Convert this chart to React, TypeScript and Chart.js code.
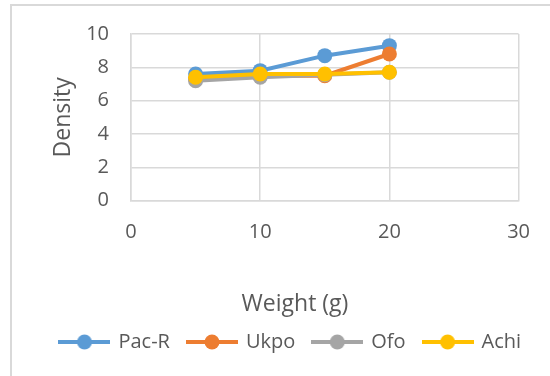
import React, { useEffect, useRef } from "react";
import { Chart, registerables } from "chart.js";

Chart.register(...registerables);

// Density readings per sample weight
const weights = [5, 10, 15, 20];
const pacR = [7.6, 7.8, 8.7, 9.3];
const ukpo = [7.3, 7.5, 7.5, 8.8];
const ofo = [7.2, 7.4, 7.55, 7.7];
const achi = [7.4, 7.6, 7.6, 7.7];

const seriesNames = ["Pac-R", "Ukpo", "Ofo", "Achi"];
const seriesValues = [pacR, ukpo, ofo, achi];
const seriesColors = ["#5B9BD5", "#ED7D31", "#A5A5A5", "#FFC000"];

const xTitle = "Weight (g)";
const yTitle = "Density";

const FONT = "'Open Sans', sans-serif";
const TEXT = "#595959";
const GRID = "#d9d9d9";

// Legend swatch: a short line with a round marker in the middle
function makeSwatch(color: string): HTMLCanvasElement {
  const c = document.createElement("canvas");
  c.width = 52;
  c.height = 18;
  const g = c.getContext("2d")!;
  g.strokeStyle = color;
  g.lineWidth = 4;
  g.beginPath();
  g.moveTo(0, 9);
  g.lineTo(52, 9);
  g.stroke();
  g.fillStyle = color;
  g.beginPath();
  g.arc(26, 9, 7.5, 0, Math.PI * 2);
  g.fill();
  return c;
}

const LEGEND_SHIFT = 30;

// Moves the legend row right so it sits under the whole figure
const legendShift = {
  id: "legendShift",
  afterLayout(chart: any) {
    if (chart.legend) {
      chart.legend.left += LEGEND_SHIFT;
      chart.legend.right += LEGEND_SHIFT;
    }
  },
};

// Horizontal axis caption, centred under the figure rather than the plot
const xCaption = {
  id: "xCaption",
  afterDraw(chart: any) {
    const { ctx } = chart;
    ctx.save();
    ctx.font = `23px ${FONT}`;
    ctx.fillStyle = TEXT;
    ctx.textAlign = "center";
    ctx.textBaseline = "middle";
    ctx.fillText(xTitle, 295, 304);
    ctx.restore();
  },
};

export default function App() {
  const ref = useRef<HTMLCanvasElement | null>(null);

  useEffect(() => {
    if (!ref.current) return;
    const swatches = seriesColors.map(makeSwatch);
    const n = seriesNames.length;
    const chart = new Chart(ref.current, {
      type: "line",
      data: {
        datasets: seriesNames.map((name, i) => ({
          label: name,
          data: weights.map((w, j) => ({ x: w, y: seriesValues[i][j] })),
          borderColor: seriesColors[i],
          backgroundColor: seriesColors[i],
          borderWidth: 4,
          pointRadius: 7.5,
          pointBorderWidth: 0,
          pointBackgroundColor: seriesColors[i],
          tension: 0,
          order: n - 1 - i,
        })),
      },
      options: {
        animation: false,
        responsive: false,
        devicePixelRatio: 1,
        layout: { padding: { top: 33.3, right: 28.4, bottom: 14, left: 0 } },
        plugins: {
          tooltip: { enabled: false },
          legend: {
            position: "bottom",
            labels: {
              usePointStyle: true,
              pointStyleWidth: 48,
              padding: 18,
              color: TEXT,
              font: { family: FONT, size: 20 },
              sort: (a: any, b: any) => a.datasetIndex - b.datasetIndex,
              generateLabels: (c: any) =>
                c.data.datasets.map((ds: any, i: number) => ({
                  text: ds.label,
                  fillStyle: ds.borderColor,
                  strokeStyle: ds.borderColor,
                  lineWidth: 0,
                  pointStyle: swatches[i],
                  datasetIndex: i,
                  hidden: false,
                  fontColor: TEXT,
                })),
            },
          },
        },
        scales: {
          x: {
            type: "linear",
            min: 0,
            max: 30,
            ticks: { stepSize: 10, padding: 20, color: TEXT, font: { family: FONT, size: 20 } },
            grid: { color: GRID, lineWidth: 1.5, drawTicks: false },
            border: { color: GRID, width: 1.5 },
            title: { display: false, text: xTitle },
            afterFit(scale: any) {
              scale.height = 113.4;
            },
          },
          y: {
            min: 0,
            max: 10,
            ticks: { stepSize: 2, padding: 22, color: TEXT, font: { family: FONT, size: 20 } },
            grid: { color: GRID, lineWidth: 1.5, drawTicks: false },
            border: { color: GRID, width: 1.5 },
            title: {
              display: true,
              text: yTitle,
              color: TEXT,
              font: { family: FONT, size: 23 },
              padding: { top: 49.2, bottom: 0 },
            },
            afterFit(scale: any) {
              scale.width = 131;
            },
          },
        },
      },
      plugins: [legendShift, xCaption],
    });
    return () => chart.destroy();
  }, []);

  return (
    <div style={{ position: "fixed", left: 0, top: 0, width: 550, height: 376, background: "#fff", overflow: "hidden" }}>
      <div
        style={{
          position: "absolute",
          left: 10,
          top: 4,
          width: 560,
          height: 400,
          borderLeft: `2px solid ${GRID}`,
          borderTop: `2px solid ${GRID}`,
        }}
      />
      <canvas ref={ref} width={550} height={376} style={{ position: "absolute", left: 0, top: 0 }} />
    </div>
  );
}
